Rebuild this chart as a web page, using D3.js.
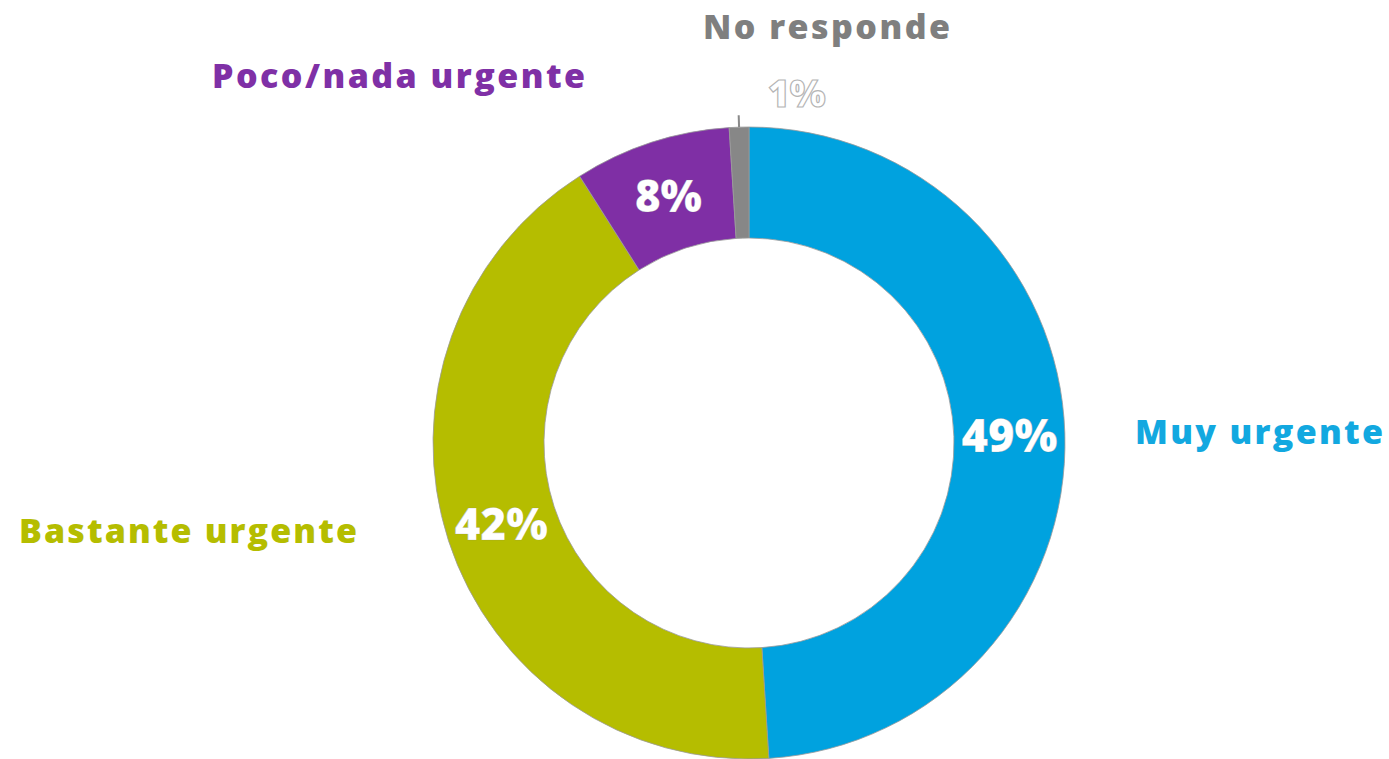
<!DOCTYPE html>
<html>
<head>
<meta charset="utf-8">
<script src="https://cdn.jsdelivr.net/npm/d3@7"></script>
<style>
  html, body { margin: 0; padding: 0; background: #ffffff; }
  svg { display: block; }
</style>
</head>
<body>
<svg id="chart" width="1389" height="759"></svg>
<script>
// ---- data ----
const categories = ["Muy urgente", "Bastante urgente", "Poco/nada urgente", "No responde"];
const values = [49, 42, 8, 1];
const valueLabels = ["49%", "42%", "8%", "1%"];
const colors = ["#00a2df", "#b5bd00", "#7f2fa5", "#878787"];
const textColors = ["#12a8e0", "#b5bd00", "#7f30a6", "#7f7f7f"];

// ---- layout ----
const cx = 749, cy = 443;
const rOuter = 316, rInner = 205;
const FONT = "'Open Sans', 'DejaVu Sans', sans-serif";
const CAT_MAX = 34;

// category label placement: [left x, baseline y, target width]
const catPos = [
  [1135, 444, 248],
  [19, 543, 338],
  [212, 88, 373],
  [703, 39, 247]
];
// target widths for value labels
const valWidth = [96, 93, 67, 58];

const svg = d3.select("#chart");
const g = svg.append("g").attr("transform", `translate(${cx},${cy})`);

const pie = d3.pie().sort(null).value(d => d).startAngle(0).endAngle(2 * Math.PI);
const arcs = pie(values);
const arc = d3.arc().innerRadius(rInner).outerRadius(rOuter);

g.selectAll("path.slice")
  .data(arcs)
  .enter().append("path")
  .attr("class", "slice")
  .attr("d", arc)
  .attr("fill", (d, i) => colors[i])
  .attr("stroke", "#9a9a9a")
  .attr("stroke-width", 0.8);

function fitText(sel, width, maxSize) {
  sel.attr("font-size", 100);
  const w = sel.node().getComputedTextLength();
  let size = 100 * width / w;
  if (maxSize && size > maxSize) {
    size = maxSize;
    sel.attr("font-size", size);
    const w2 = sel.node().getComputedTextLength();
    sel.attr("letter-spacing", (width - w2) / (sel.text().length - 1));
  } else {
    sel.attr("font-size", size);
  }
}

// value labels inside (first three)
arcs.forEach((d, i) => {
  if (i < 3) {
    const [x, y] = arc.centroid(d);
    const t = g.append("text")
      .attr("x", x).attr("y", y)
      .attr("text-anchor", "middle")
      .attr("dominant-baseline", "central")
      .attr("font-family", FONT)
      .attr("font-weight", 800)
      .attr("fill", "#ffffff")
      .attr("stroke", "rgba(120,120,120,0.35)")
      .attr("stroke-width", 0.6)
      .text(valueLabels[i]);
    fitText(t, valWidth[i]);
  }
});

// small slice: leader line + outlined label
const small = arcs[3];
const midA = (small.startAngle + small.endAngle) / 2;
const lineArc0 = rOuter, lineArc1 = rOuter + 12;
g.append("line")
  .attr("x1", Math.sin(midA) * lineArc0)
  .attr("y1", -Math.cos(midA) * lineArc0)
  .attr("x2", Math.sin(midA) * lineArc1)
  .attr("y2", -Math.cos(midA) * lineArc1)
  .attr("stroke", "#8a8a8a")
  .attr("stroke-width", 2);

const oneLbl = g.append("text")
  .attr("x", Math.sin(midA) * lineArc1 + 58)
  .attr("y", -Math.cos(midA) * lineArc1 - 23)
  .attr("text-anchor", "middle")
  .attr("dominant-baseline", "central")
  .attr("font-family", FONT)
  .attr("font-weight", 800)
  .attr("fill", "#ffffff")
  .attr("stroke", "#b5b5b5")
  .attr("stroke-width", 1.2)
  .text(valueLabels[3]);
fitText(oneLbl, valWidth[3]);

// category labels
categories.forEach((c, i) => {
  const [x, y, w] = catPos[i];
  const t = svg.append("text")
    .attr("x", x).attr("y", y)
    .attr("font-family", FONT)
    .attr("font-weight", 800)
    .attr("fill", textColors[i])
    .text(c);
  fitText(t, w, CAT_MAX);
});
</script>
</body>
</html>
